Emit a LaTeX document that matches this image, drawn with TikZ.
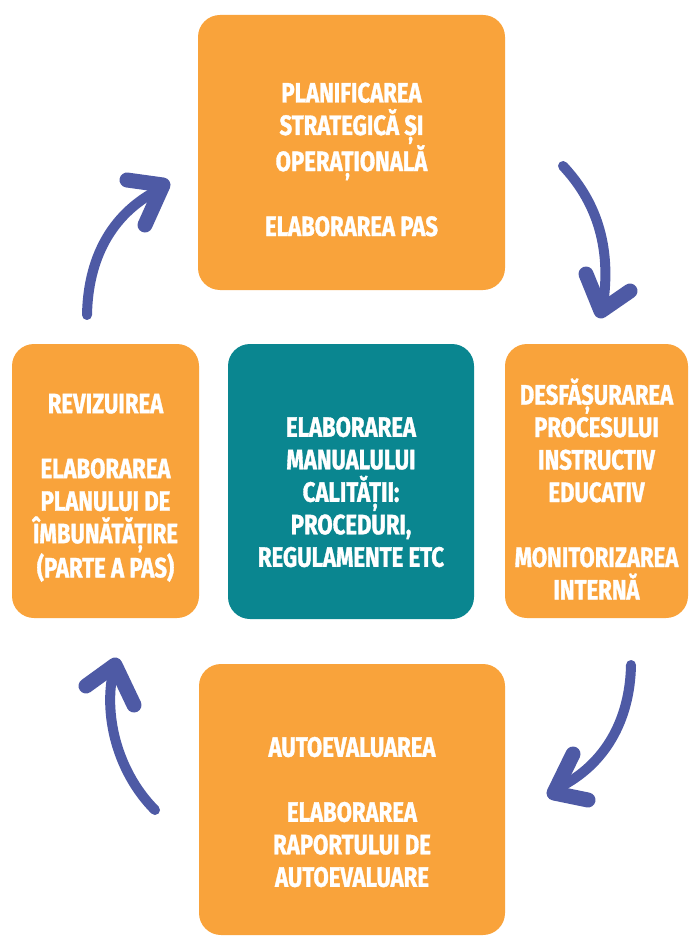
\documentclass[tikz,border=0pt]{standalone}
\usepackage{fontspec}
\setmainfont{Fira Sans}[FakeStretch=0.79,BoldFeatures={FakeBold=1.2}]
\definecolor{boxorange}{HTML}{F9A33B}
\definecolor{boxteal}{HTML}{0A8690}
\definecolor{arrowblue}{HTML}{4E5AA5}
\newcommand{\down}[1]{\rule{0pt}{#1pt}}
\begin{document}
\begin{tikzpicture}[x=1pt,y=-1pt,
box/.style={rounded corners=22pt,fill=boxorange,text=white,align=center,inner sep=0pt,
  font=\bfseries\fontsize{28}{32.5}\selectfont},
shaft/.style={line width=10pt,line cap=round,draw=arrowblue},
head/.style={line width=15pt,line cap=round,line join=round,draw=arrowblue}]
\useasboundingbox (0,0) rectangle (689,936);
\def\gap{\\[32.5pt]}

\node[box,minimum width=307pt,minimum height=275pt] (plan) at (351.5,152.5)
  {\down{34}PLANIFICAREA\\STRATEGICĂ ȘI\\OPERAȚIONALĂ\gap ELABORAREA PAS};
\node[box,minimum width=187pt,minimum height=274pt] (rev) at (105.5,481)
  {\down{33}REVIZUIREA\gap ELABORAREA\\PLANULUI DE\\ÎMBUNĂTĂȚIRE\\(PARTE A PAS)};
\node[box,fill=boxteal,minimum width=246pt,minimum height=275pt] (man) at (351,481.5)
  {\down{41}ELABORAREA\\MANUALULUI\\CALITĂȚII:\\PROCEDURI,\\REGULAMENTE ETC};
\node[box,minimum width=183pt,minimum height=274pt] (desf) at (596.5,481)
  {\down{42}DESFĂȘURAREA\\PROCESULUI\\INSTRUCTIV\\EDUCATIV\gap MONITORIZAREA\\INTERNĂ};
\node[box,minimum width=306pt,minimum height=271pt] (auto) at (352,799.5)
  {\down{45}AUTOEVALUAREA\gap ELABORAREA\\RAPORTULUI DE\\AUTOEVALUARE};

% arrows
\coordinate (s1) at (563,166); \coordinate (e1) at (603,305);
\coordinate (s2) at (631,665); \coordinate (e2) at (558,788);
\coordinate (s3) at (155,810); \coordinate (e3) at (113,672);
\coordinate (s4) at (87,315);  \coordinate (e4) at (158,190);

\draw[shaft] (s1) .. controls (595,200) and (612,245) .. (e1);
\draw[head] (586,274) -- (601,311) -- (630,291);
\draw[shaft] (s2) .. controls (630,720) and (605,765) .. (e2);
\draw[head] (573,754) -- (554,793) -- (588,800);
\draw[shaft] (s3) .. controls (120,775) and (103,720) .. (e3);
\draw[head] (86,686) -- (115,665) -- (134,705);
\draw[shaft] (s4) .. controls (88,260) and (110,215) .. (e4);
\draw[head] (127,180) -- (163,185) -- (145,225);
\end{tikzpicture}
\end{document}
